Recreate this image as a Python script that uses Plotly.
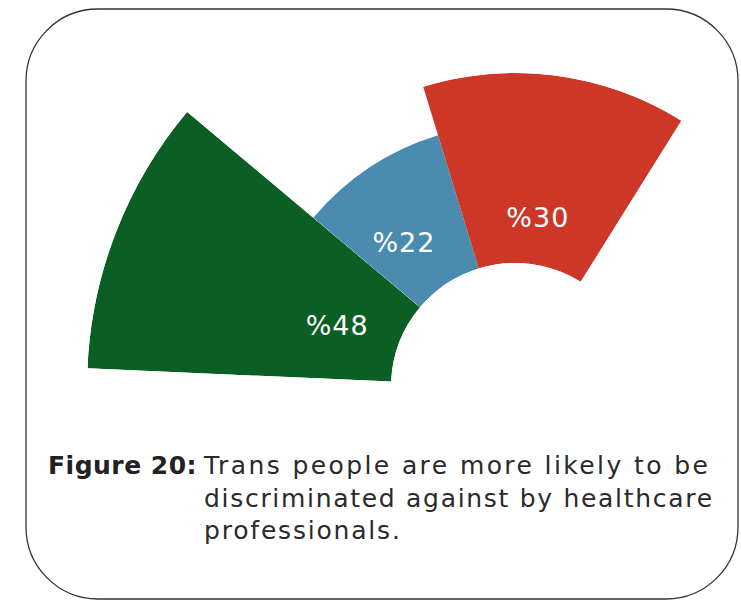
import math
import plotly.graph_objects as go

# Share of respondents in each wedge (percent)
values = [48, 22, 30]
labels = [f"%{v}" for v in values]
colors = ["#0b5e24", "#4a8baf", "#cc3728"]

caption_head = "Figure 20:"
caption_lines = [
    "Trans people are more likely to be",
    "discriminated against by healthcare",
    "professionals.",
]

# ---- fan geometry (styling only) ----
W, H = 741, 601
CX, CY = 515, 387           # pixel centre of the fan
HOLE_PX = 124               # pixel radius of the empty centre
PX_PER_UNIT = 6.333         # radial pixels per percentage point
FAN_START = 177.5           # first wedge starts here (deg, ccw from 3 o'clock)
spans = [37.5, 33.0, 49.0]  # angular width of each wedge
label_theta = [161.7, 128.0, 82.2]
label_r = [10.0, 8.9, 7.0]
# the long first wedge sits in its own polar frame so the fan fits the page
groups = [[0], [1, 2]]

FONT = "DejaVu Sans"
caption_tracking = [2.4, 1.7, 1.8]   # letter spacing per caption line (px)


def spaced(txt, px):
    return f'<span style="letter-spacing:{px}px">{txt}</span>'


# wedge centre angles and edges, laid out clockwise from FAN_START
thetas, edges = [], [FAN_START]
for s in spans:
    thetas.append(edges[-1] - s / 2)
    edges.append(edges[-1] - s)


def sector_bbox(a0, a1):
    xs, ys = [0.0], [0.0]
    for a in (a0, a1):
        xs.append(math.cos(math.radians(a)))
        ys.append(math.sin(math.radians(a)))
    for a in (0, 90, 180, 270, 360):
        if a0 <= a <= a1:
            xs.append(math.cos(math.radians(a)))
            ys.append(math.sin(math.radians(a)))
    return min(xs), min(ys), max(xs), max(ys)


fig = go.Figure()
layout_polars = {}
for gi, idx in enumerate(groups):
    name = "polar" if gi == 0 else f"polar{gi + 1}"
    r_max = max(values[i] for i in idx)
    axis_r = HOLE_PX + r_max * PX_PER_UNIT
    sector = [edges[idx[-1] + 1], edges[idx[0]]]
    bx0, by0, bx1, by1 = sector_bbox(*sector)
    dom_x = [(CX + axis_r * bx0) / W, (CX + axis_r * bx1) / W]
    dom_y = [1 - (CY - axis_r * by0) / H, 1 - (CY - axis_r * by1) / H]
    layout_polars[name] = dict(
        domain=dict(x=dom_x, y=dom_y),
        sector=sector,
        hole=HOLE_PX / axis_r,
        bgcolor="rgba(0,0,0,0)",
        radialaxis=dict(range=[0, r_max], visible=False, showgrid=False),
        angularaxis=dict(visible=False, showgrid=False, rotation=0,
                         direction="counterclockwise"),
    )
    fig.add_trace(go.Barpolar(
        r=[values[i] for i in idx],
        theta=[thetas[i] for i in idx],
        width=[spans[i] for i in idx],
        base=0,
        marker=dict(color=[colors[i] for i in idx], line=dict(width=0)),
        subplot=name,
        hoverinfo="skip",
        showlegend=False,
    ))
    fig.add_trace(go.Scatterpolar(
        r=[label_r[i] for i in idx],
        theta=[label_theta[i] for i in idx],
        mode="text",
        text=[spaced(labels[i], 1) for i in idx],
        textfont=dict(family=FONT, size=27, color="white"),
        cliponaxis=False,
        subplot=name,
        hoverinfo="skip",
        showlegend=False,
    ))

fig.update_layout(
    width=W,
    height=H,
    margin=dict(l=0, r=0, t=0, b=0),
    paper_bgcolor="white",
    plot_bgcolor="white",
    **layout_polars,
)

# rounded frame around the figure
L, R, T, B, RAD = 26, 738, 9, 599, 72
k = 0.5523 * RAD


def px(x, y):
    return f"{x / W:.5f},{1 - y / H:.5f}"


frame = (
    f"M {px(L + RAD, T)} L {px(R - RAD, T)} "
    f"C {px(R - RAD + k, T)} {px(R, T + RAD - k)} {px(R, T + RAD)} "
    f"L {px(R, B - RAD)} "
    f"C {px(R, B - RAD + k)} {px(R - RAD + k, B)} {px(R - RAD, B)} "
    f"L {px(L + RAD, B)} "
    f"C {px(L + RAD - k, B)} {px(L, B - RAD + k)} {px(L, B - RAD)} "
    f"L {px(L, T + RAD)} "
    f"C {px(L, T + RAD - k)} {px(L + RAD - k, T)} {px(L + RAD, T)} Z"
)
fig.add_shape(type="path", xref="paper", yref="paper", path=frame,
              line=dict(color="#333333", width=1.3), layer="below")

fig.add_annotation(
    x=199 / W, y=1 - 465 / H, xref="paper", yref="paper",
    xanchor="right", yanchor="middle", showarrow=False,
    text=f"<b>{spaced(caption_head, 0.5)}</b>",
    font=dict(family=FONT, size=25, color="#222222"),
)
fig.add_annotation(
    x=201 / W, y=1 - 498 / H, xref="paper", yref="paper",
    xanchor="left", yanchor="middle", align="left", showarrow=False,
    text="<br>".join(spaced(line, t)
                     for line, t in zip(caption_lines, caption_tracking)),
    font=dict(family=FONT, size=25, color="#2a2a2a"),
)

fig.write_html("out.html")
